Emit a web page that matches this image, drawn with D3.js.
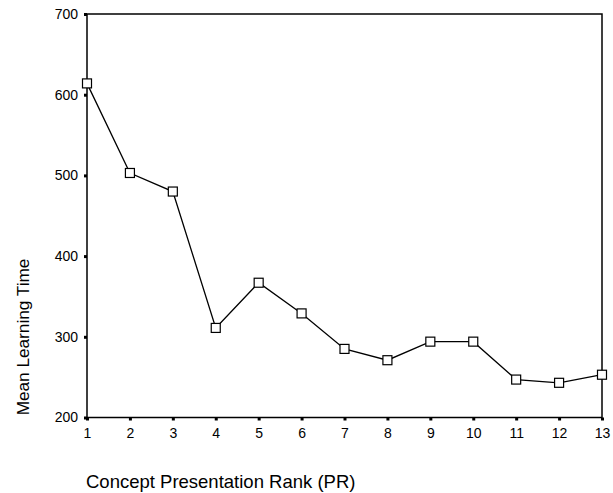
<!DOCTYPE html>
<html>
<head>
<meta charset="utf-8">
<script src="https://cdn.jsdelivr.net/npm/d3@7"></script>
<style>
  body { margin: 0; background: #fff; }
  text { font-family: "Liberation Sans", Arial, sans-serif; fill: #000; }
</style>
</head>
<body>
<div id="chart"></div>
<script>
// data
const ranks = [1, 2, 3, 4, 5, 6, 7, 8, 9, 10, 11, 12, 13];
const meanTime = [614, 503, 480, 311, 367, 329, 285, 271, 294, 294, 247, 243, 253];
const yTicks = [200, 300, 400, 500, 600, 700];

const width = 613;
const height = 493;
const margin = { top: 14, right: 11, bottom: 75, left: 87 };

const svg = d3.select('#chart')
  .append('svg')
  .attr('width', width)
  .attr('height', height);

const x = d3.scaleLinear()
  .domain([1, 13])
  .range([margin.left, width - margin.right]);
const y = d3.scaleLinear()
  .domain([200, 700])
  .range([height - margin.bottom - 0.5, margin.top]);

// frame
svg.append('rect')
  .attr('x', margin.left)
  .attr('y', margin.top)
  .attr('width', width - margin.right - margin.left)
  .attr('height', y(200) - margin.top)
  .attr('fill', 'none')
  .attr('stroke', '#000')
  .attr('stroke-width', 1.5);

// axes
const xAxis = svg.append('g')
  .attr('transform', `translate(0,${y(200)})`)
  .call(d3.axisBottom(x).tickValues(ranks).tickSize(3).tickPadding(8).tickFormat(d3.format('d')));
const yAxis = svg.append('g')
  .attr('transform', `translate(${margin.left},0)`)
  .call(d3.axisLeft(y).tickValues(yTicks).tickSize(3).tickPadding(6));

[xAxis, yAxis].forEach((g) => {
  g.select('.domain').remove();
  g.selectAll('.tick line').attr('stroke', '#000').attr('stroke-width', 3);
  g.selectAll('.tick text')
    .attr('font-size', 14)
    .attr('font-family', '"Liberation Sans", Arial, sans-serif')
    .attr('fill', '#000');
});

// line
const line = d3.line()
  .x((d, i) => x(ranks[i]))
  .y((d) => y(d));
svg.append('path')
  .datum(meanTime)
  .attr('d', line)
  .attr('fill', 'none')
  .attr('stroke', '#000')
  .attr('stroke-width', 1.3);

// square markers
svg.selectAll('.marker')
  .data(meanTime)
  .enter()
  .append('rect')
  .attr('class', 'marker')
  .attr('x', (d, i) => x(ranks[i]) - 4.5)
  .attr('y', (d) => y(d) - 4.5)
  .attr('width', 9)
  .attr('height', 9)
  .attr('fill', '#fff')
  .attr('stroke', '#000')
  .attr('stroke-width', 1.2);

// titles
svg.append('text')
  .attr('x', 86)
  .attr('y', 488)
  .attr('font-size', 18.5)
  .text('Concept Presentation Rank (PR)');
svg.append('text')
  .attr('transform', `translate(29,337) rotate(-90)`)
  .attr('text-anchor', 'middle')
  .attr('font-size', 17.2)
  .text('Mean Learning Time');
</script>
</body>
</html>
